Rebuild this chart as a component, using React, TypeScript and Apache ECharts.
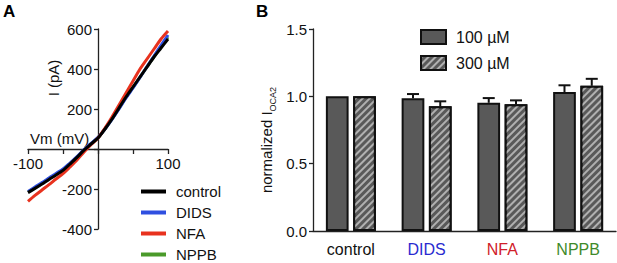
import React, { useEffect, useRef } from "react";
import * as echarts from "echarts";

// Panel A: I-V traces
const vm = [-100, -90, -80, -70, -60, -50, -40, -30, -20, -10, 0, 10, 20, 30, 40, 50, 60, 70, 80, 90, 100];
const iControl = [-218, -197, -175, -152, -130, -107, -75, -42, -6, 25, 55, 100, 150, 205, 260, 310, 360, 410, 460, 505, 550];
const iDIDS = [-212, -190, -168, -145, -122, -100, -70, -38, -3, 28, 58, 100, 148, 200, 255, 305, 358, 412, 465, 518, 570];
const iNFA = [-262, -232, -205, -178, -150, -123, -90, -55, -15, 22, 55, 105, 160, 220, 280, 340, 400, 450, 500, 550, 590];
const iNPPB = [-215, -194, -172, -149, -127, -104, -73, -40, -5, 26, 56, 100, 149, 203, 258, 308, 359, 411, 462, 512, 560];
const traceNames = ["control", "DIDS", "NFA", "NPPB"];
const traceColors = ["#000000", "#2f4fe0", "#e8321e", "#4a9a2a"];

// Panel B: normalized currents
const categories = ["control", "DIDS", "NFA", "NPPB"];
const categoryColors = ["#111111", "#2a2ad0", "#d0202a", "#3f8a2a"];
const mean100 = [1.0, 0.985, 0.952, 1.032];
const sem100 = [0, 0.032, 0.035, 0.05];
const mean300 = [1.0, 0.926, 0.942, 1.078];
const sem300 = [0, 0.037, 0.028, 0.052];
const barNames = ["100 µM", "300 µM"];

const FONT = "Liberation Sans, Arial, sans-serif";
const AX = "#222";

export default function App() {
  const ref = useRef<HTMLDivElement>(null);
  useEffect(() => {
    document.body.style.margin = "0";
    const chart = echarts.init(ref.current!, null, { renderer: "svg" });
    const traces = [iControl, iDIDS, iNFA, iNPPB];
    const drawOrder = [3, 1, 2, 0];
    const lineSeries = drawOrder.map((k) => ({
      type: "line",
      name: traceNames[k],
      xAxisIndex: 0,
      yAxisIndex: 0,
      data: vm.map((v, i) => [v, traces[k][i]]),
      showSymbol: false,
      smooth: 0.3,
      lineStyle: { color: traceColors[k], width: 3 },
      itemStyle: { color: traceColors[k] },
      z: 2 + drawOrder.indexOf(k),
    }));

    const BW = 0.3;
    const GAP = 0.2;
    const errData: number[][] = [];
    mean100.forEach((m, i) => errData.push([i, m, m + sem100[i], 0, sem100[i]]));
    mean300.forEach((m, i) => errData.push([i, m, m + sem300[i], 1, sem300[i]]));

    const lineLegends = traceNames.map((n, i) => ({
      data: [n],
      orient: "vertical",
      left: 141,
      top: 184 + i * 21,
      padding: 0,
      itemWidth: 25,
      itemHeight: 4,
      icon: "rect",
      textStyle: { fontSize: 15, color: "#111", padding: [0, 0, 0, 5] },
    }));

    const option: any = {
      animation: false,
      textStyle: { fontFamily: FONT },
      grid: [
        { left: 28, top: 29, width: 140, height: 200 },
        { left: 313, top: 29, width: 303, height: 202 },
        { left: 98, top: 29, width: 70, height: 200 },
        { left: 28, top: 29, width: 140, height: 120 },
      ],
      xAxis: [
        { type: "value", gridIndex: 0, min: -100, max: 100, show: false },
        {
          type: "category",
          gridIndex: 1,
          data: categories,
          axisLine: { lineStyle: { color: AX, width: 1.3 } },
          axisTick: { alignWithLabel: true, length: 5, lineStyle: { color: AX, width: 1.3 } },
          axisLabel: {
            fontSize: 16,
            margin: 10,
            color: (_v: string, i: number) => categoryColors[i],
          },
        },
        { type: "value", gridIndex: 2, min: 0, max: 1, show: false },
        {
          type: "value",
          gridIndex: 3,
          min: -100,
          max: 100,
          interval: 50,
          axisLine: { onZero: false, lineStyle: { color: AX, width: 1.3 } },
          axisTick: { show: true, length: 5, lineStyle: { color: AX, width: 1.3 } },
          axisLabel: {
            fontSize: 15,
            color: "#111",
            margin: 7,
            formatter: (v: number) => (v === -100 || v === 100 ? String(v) : ""),
          },
          splitLine: { show: false },
        },
      ],
      yAxis: [
        { type: "value", gridIndex: 0, min: -400, max: 600, show: false },
        {
          type: "value",
          gridIndex: 1,
          min: 0,
          max: 1.5,
          interval: 0.5,
          axisLine: { show: true, lineStyle: { color: AX, width: 1.3 } },
          axisTick: { show: true, length: 4, lineStyle: { color: AX, width: 1.3 } },
          axisLabel: {
            fontSize: 15,
            color: "#111",
            margin: 6,
            formatter: (v: number) => v.toFixed(1),
          },
          splitLine: { show: false },
        },
        {
          type: "value",
          gridIndex: 2,
          min: -400,
          max: 600,
          interval: 200,
          axisLine: { show: true, onZero: false, lineStyle: { color: AX, width: 1.3 } },
          axisTick: { show: true, length: 4, lineStyle: { color: AX, width: 1.3 } },
          axisLabel: {
            fontSize: 15,
            color: "#111",
            margin: 6,
            formatter: (v: number) => (v === 0 ? "" : String(v)),
          },
          splitLine: { show: false },
        },
        { type: "value", gridIndex: 3, min: 0, max: 1, show: false },
      ],
      legend: [
        ...lineLegends,
        {
          data: barNames,
          orient: "vertical",
          left: 420,
          top: 29,
          padding: 0,
          icon: "rect",
          itemWidth: 25,
          itemHeight: 14,
          itemGap: 10,
          textStyle: { fontSize: 16, color: "#111", padding: [0, 0, 0, 5] },
        },
      ],
      series: [
        ...lineSeries,
        {
          type: "bar",
          name: barNames[0],
          xAxisIndex: 1,
          yAxisIndex: 1,
          data: mean100,
          barWidth: BW * 100 + "%",
          barGap: GAP * 100 + "%",
          itemStyle: { color: "#595959", borderColor: "#111", borderWidth: 2 },
        },
        {
          type: "bar",
          name: barNames[1],
          xAxisIndex: 1,
          yAxisIndex: 1,
          data: mean300,
          barWidth: BW * 100 + "%",
          barGap: GAP * 100 + "%",
          itemStyle: {
            color: "#595959",
            borderColor: "#111",
            borderWidth: 2,
            decal: {
              symbol: "rect",
              symbolSize: 1,
              dashArrayX: [1, 0],
              dashArrayY: [2, 3],
              rotation: -Math.PI / 4,
              color: "#b0b0b0",
            },
          },
        },
        {
          type: "custom",
          xAxisIndex: 1,
          yAxisIndex: 1,
          z: 5,
          data: errData,
          renderItem: (_p: any, api: any) => {
            const cat = api.value(0);
            const mean = api.value(1);
            const top = api.value(2);
            const side = api.value(3);
            const sem = api.value(4);
            if (!sem) return { type: "group", children: [] };
            const band = api.size([1, 0])[0];
            const bw = band * BW;
            const off = ((bw * (1 + GAP)) / 2) * (side === 0 ? -1 : 1);
            const c = api.coord([cat, mean]);
            const t = api.coord([cat, top]);
            const x = c[0] + off;
            const st = { stroke: "#111", lineWidth: 2 };
            return {
              type: "group",
              children: [
                { type: "line", shape: { x1: x, y1: c[1], x2: x, y2: t[1] }, style: st },
                { type: "line", shape: { x1: x - 6, y1: t[1], x2: x + 6, y2: t[1] }, style: st },
              ],
            };
          },
        },
      ],
      graphic: [
        { type: "text", left: 3, top: 3, style: { text: "A", font: `bold 17px ${FONT}`, fill: "#000" } },
        { type: "text", left: 256, top: 3, style: { text: "B", font: `bold 17px ${FONT}`, fill: "#000" } },
        {
          type: "text",
          x: 53,
          y: 78,
          rotation: Math.PI / 2,
          style: { text: "I (pA)", font: `15px ${FONT}`, fill: "#111", align: "center", verticalAlign: "middle" },
        },
        {
          type: "text",
          x: 30,
          y: 138,
          style: { text: "Vm (mV)", font: `15px ${FONT}`, fill: "#111", align: "left", verticalAlign: "middle" },
        },
        {
          type: "text",
          x: 268,
          y: 140,
          rotation: Math.PI / 2,
          style: {
            text: "{a|normalized I}{b|OCA2}",
            align: "center",
            verticalAlign: "middle",
            rich: {
              a: { fontSize: 15, fontFamily: FONT, fill: "#111", lineHeight: 18, verticalAlign: "top" },
              b: { fontSize: 9, fontFamily: FONT, fill: "#111", lineHeight: 18, verticalAlign: "bottom" },
            },
          },
        },
      ],
    };
    chart.setOption(option);
    return () => chart.dispose();
  }, []);
  return <div ref={ref} style={{ width: 617, height: 263 }} />;
}
